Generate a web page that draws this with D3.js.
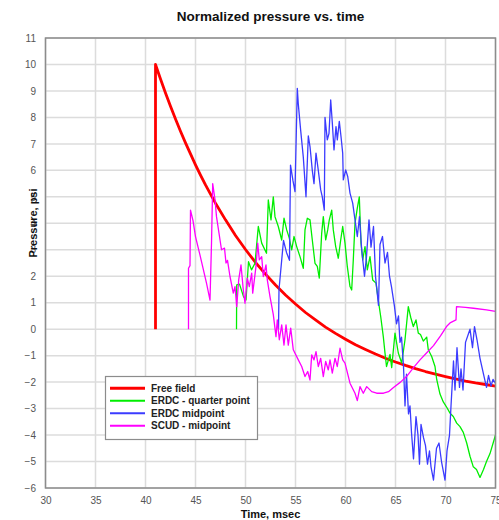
<!DOCTYPE html>
<html>
<head>
<meta charset="utf-8">
<script src="https://cdn.jsdelivr.net/npm/d3@7"></script>
<style>
  html, body { margin: 0; padding: 0; background: #fff; }
  svg { display: block; }
  text { font-family: "Liberation Sans", Arial, sans-serif; }
</style>
</head>
<body>
<svg id="chart" width="499" height="520"></svg>
<script>
// ---- Data ----
const title = "Normalized pressure vs. time";
const xLabel = "Time, msec";
const yLabel = "Pressure, psi";
const xTicks = [30, 35, 40, 45, 50, 55, 60, 65, 70, 75];
const yTicks = [-6, -5, -4, -3, -2, -1, 0, 1, 2, 3, 4, 5, 6, 7, 8, 9, 10, 11];
const seriesNames = ["Free field", "ERDC - quarter point", "ERDC midpoint", "SCUD - midpoint"];

// Free field [time, pressure]
const freeField = [
  [41, 0], [41, 10], [41.5, 9.45], [42, 8.92], [42.5, 8.42], [43, 7.94], [43.5, 7.48], [44, 7.04],
  [44.5, 6.62], [45, 6.21], [45.5, 5.82], [46, 5.45], [46.5, 5.10], [47, 4.76],
  [48, 4.13], [49, 3.54], [50, 3.01], [51, 2.52], [52, 2.08], [53, 1.67], [54, 1.29],
  [55, 0.95], [56, 0.63], [57, 0.35], [58, 0.08], [59, -0.16], [60, -0.38], [61, -0.59],
  [62, -0.77], [63, -0.94], [64, -1.10], [65, -1.24], [66, -1.37], [67, -1.49], [68, -1.60],
  [69, -1.70], [70, -1.79], [71, -1.88], [72, -1.96], [73, -2.03], [74, -2.09], [75, -2.15]
];

// ERDC - quarter point
const erdcQuarter = [
  [49.1, 0], [49.12, 1.67], [49.4, 1.7], [49.8, 1.23], [50.05, 1.1], [50.3, 2.55], [50.6, 2.24],
  [50.95, 2.49], [51.28, 3.88], [51.62, 3.25], [52.1, 2.87], [52.28, 4.88], [52.55, 4.13],
  [52.78, 5.0], [52.95, 4.25], [53.28, 3.88], [53.62, 3.37], [53.85, 4.19], [54.12, 3.75],
  [54.38, 3.44], [54.62, 3.0], [54.85, 3.5], [55.12, 3.12], [55.45, 2.74], [55.78, 2.3],
  [55.95, 3.75], [56.18, 4.19], [56.45, 4.13], [56.68, 3.37], [56.95, 2.49], [57.18, 2.37],
  [57.38, 1.93], [57.62, 3.63], [57.78, 4.25], [58.02, 3.37], [58.22, 3.75], [58.38, 4.13],
  [58.62, 4.5], [58.78, 3.75], [59.02, 3.12], [59.28, 2.68], [59.52, 3.37], [59.72, 3.88],
  [59.95, 3.25], [60.18, 2.37], [60.45, 1.61], [60.62, 1.48], [60.78, 2.62], [60.95, 4.0],
  [61.18, 4.57], [61.38, 5.0], [61.55, 3.25], [61.72, 2.62], [61.95, 3.12], [62.18, 2.24],
  [62.45, 2.74], [62.72, 1.86], [63.05, 1.74], [63.28, 1.1], [63.52, 0.48], [63.78, -0.28],
  [63.95, -0.9], [64.1, -1.41], [64.45, -0.95], [64.62, -1.45], [64.95, -0.15], [65.28, -0.9],
  [65.62, -1.28], [65.95, -0.4], [66.28, 0.85], [66.52, 0.45], [66.78, 0.1], [67.05, 0.35],
  [67.28, -0.15], [67.5, -0.2], [67.78, -0.45], [68.12, -0.3], [68.28, -0.78], [68.62, -1.03],
  [68.95, -1.41], [69.12, -1.9], [69.45, -2.45], [69.78, -2.75], [70.12, -2.95], [70.45, -3.17],
  [70.78, -3.3], [71.12, -3.55], [71.45, -3.68], [71.78, -3.9], [72.12, -4.3], [72.45, -4.8],
  [72.78, -5.2], [73.1, -5.3], [73.45, -5.6], [73.8, -5.3], [74.1, -5.0], [74.45, -4.7], [75.0, -4.0]
];

// ERDC midpoint
const erdcMid = [
  [53.3, 0.0], [53.35, 1.5], [53.8, 3.35], [54.1, 2.9], [54.4, 2.6], [54.5, 6.2], [54.75, 5.6],
  [54.95, 5.2], [55.18, 9.1], [55.28, 8.5], [55.52, 7.5], [55.78, 6.5], [56.05, 5.0], [56.28, 7.3],
  [56.45, 6.9], [56.68, 6.0], [56.85, 5.5], [57.05, 6.65], [57.28, 6.0], [57.52, 5.26], [57.68, 5.0],
  [57.88, 4.5], [57.95, 8.0], [58.18, 7.15], [58.35, 7.4], [58.52, 8.66], [58.68, 7.8], [58.85, 6.77],
  [59.05, 7.65], [59.18, 7.15], [59.38, 7.85], [59.55, 7.28], [59.72, 6.65], [59.78, 5.64],
  [60.02, 6.02], [60.22, 5.77], [60.45, 5.14], [60.72, 4.76], [60.95, 4.13], [61.18, 3.5],
  [61.4, 4.25], [61.62, 3.0], [61.9, 2.0], [62.1, 2.74], [62.35, 4.13], [62.55, 3.1], [62.8, 3.88],
  [63.0, 2.0], [63.3, 0.9], [63.45, 3.2], [63.7, 3.5], [63.95, 2.5], [64.2, 2.9], [64.4, 2.0],
  [64.6, 1.6], [64.9, 0.85], [65.1, 0.2], [65.3, 0.5], [65.45, -0.5], [65.6, -0.3], [65.8, -1.4],
  [65.95, -2.9], [66.1, -1.7], [66.3, -3.2], [66.45, -2.9], [66.6, -3.9], [66.8, -4.9], [67.05, -3.3],
  [67.25, -4.0], [67.4, -5.1], [67.55, -3.6], [67.8, -4.1], [68.0, -4.4], [68.2, -5.1], [68.4, -4.6],
  [68.55, -5.2], [68.8, -5.7], [69.1, -4.5], [69.35, -4.3], [69.6, -5.0], [69.95, -5.7], [70.15, -4.6],
  [70.4, -4.0], [70.55, -2.9], [70.8, -1.2], [70.95, -2.3], [71.15, -0.7], [71.4, -2.2], [71.55, -1.5],
  [71.75, -2.3], [72.0, -0.5], [72.45, 0.0], [72.7, -0.7], [72.9, 0.1], [73.15, -0.4], [73.45, -1.1],
  [73.8, -1.7], [74.1, -2.2], [74.3, -1.75], [74.55, -2.15], [74.75, -1.9], [75.0, -2.05]
];

// SCUD - midpoint
const scudMid = [
  [44.3, 0], [44.3, 2.3], [44.45, 2.4], [44.5, 4.5], [44.75, 4.1], [45.0, 3.5], [45.45, 2.8],
  [46.1, 1.74], [46.45, 1.1], [46.6, 3.25], [46.72, 5.5], [46.95, 4.9], [47.1, 4.25], [47.6, 3.0],
  [47.9, 3.06], [48.05, 2.5], [48.2, 2.6], [48.45, 1.99], [48.78, 1.36], [48.95, 1.61], [49.12, 0.85],
  [49.32, 1.86], [49.55, 2.43], [49.78, 1.48], [49.95, 0.98], [50.18, 1.93], [50.38, 1.61],
  [50.62, 2.12], [50.72, 1.36], [51.05, 2.37], [51.22, 3.25], [51.38, 2.62], [51.62, 2.74],
  [51.78, 1.99], [52.05, 2.43], [52.18, 1.86], [52.45, 1.23], [52.78, 0.55], [53.05, -0.28],
  [53.18, 0.35], [53.38, -0.4], [53.62, 0.16], [53.85, -0.6], [54.05, 0.16], [54.28, -0.6],
  [54.52, 0.04], [54.78, -0.78], [55.28, -1.16], [55.62, -1.41], [55.95, -1.79], [56.22, -1.6],
  [56.45, -1.92], [56.62, -0.97], [56.85, -1.16], [57.05, -0.85], [57.28, -1.41], [57.52, -1.1],
  [57.78, -1.79], [58.02, -1.22], [58.28, -1.54], [58.45, -1.16], [58.68, -1.66], [58.95, -1.1],
  [59.18, -1.41], [59.45, -0.72], [59.72, -1.16], [59.95, -1.28], [60.45, -2.04], [60.95, -2.42],
  [61.18, -2.7], [61.45, -2.17], [61.78, -2.42], [62.12, -2.17], [62.62, -2.36], [63.12, -2.42],
  [63.8, -2.42], [64.3, -2.36], [64.8, -2.2], [65.5, -2.0], [66.1, -1.79], [66.8, -1.45],
  [67.45, -1.16], [68.1, -0.9], [68.8, -0.62], [69.5, -0.25], [70.1, 0.1], [70.5, 0.25],
  [71.05, 0.35], [71.1, 0.85], [72.0, 0.82], [72.8, 0.79], [74.1, 0.73], [75.0, 0.67]
];

const seriesData = [freeField, erdcQuarter, erdcMid, scudMid];
const seriesColors = ["#ff0000", "#00ee00", "#3b3bff", "#ff00ff"];
const seriesWidths = [2.8, 1.3, 1.3, 1.3];
const legendWidths = [3, 2, 2, 2];

// ---- Layout ----
const svg = d3.select("#chart");
const plot = { left: 45.5, right: 495.5, top: 38, bottom: 488 };

const x = d3.scaleLinear().domain([30, 75]).range([plot.left, plot.right]);
const y = d3.scaleLinear().domain([-6, 11]).range([plot.bottom, plot.top]);

// Title
svg.append("text")
  .attr("x", (plot.left + plot.right) / 2)
  .attr("y", 21)
  .attr("text-anchor", "middle")
  .attr("font-size", "13.5px")
  .attr("font-weight", "bold")
  .attr("fill", "#111")
  .text(title);

// Gridlines
const grid = svg.append("g");
grid.selectAll("line.v").data(xTicks).join("line")
  .attr("x1", d => x(d)).attr("x2", d => x(d))
  .attr("y1", plot.top).attr("y2", plot.bottom)
  .attr("stroke", "#dcdcdc").attr("stroke-width", 1.5);
grid.selectAll("line.h").data(yTicks).join("line")
  .attr("x1", plot.left).attr("x2", plot.right)
  .attr("y1", d => y(d)).attr("y2", d => y(d))
  .attr("stroke", "#dcdcdc").attr("stroke-width", 1.5);

// Axes (labels only, styled)
const xAxis = d3.axisBottom(x).tickValues(xTicks).tickSize(0).tickPadding(10).tickFormat(d3.format("d"));
const yAxis = d3.axisLeft(y).tickValues(yTicks).tickSize(0).tickPadding(10).tickFormat(d3.format("d"));

const gx = svg.append("g").attr("transform", `translate(0,${plot.bottom})`).call(xAxis);
const gy = svg.append("g").attr("transform", `translate(${plot.left},0)`).call(yAxis);
[gx, gy].forEach(g => {
  g.select(".domain").remove();
  g.selectAll("text")
    .attr("font-family", "'Liberation Sans', Arial, sans-serif")
    .attr("font-size", "10px")
    .attr("fill", "#555");
});
gx.selectAll("text").attr("dy", "0.71em").attr("y", 9);
gy.selectAll("text").attr("x", -9.5);

// Clip for series
svg.append("clipPath").attr("id", "plotClip")
  .append("rect")
  .attr("x", plot.left).attr("y", plot.top)
  .attr("width", plot.right - plot.left).attr("height", plot.bottom - plot.top);

const line = d3.line().x(d => x(d[0])).y(d => y(d[1]));

const series = svg.append("g").attr("clip-path", "url(#plotClip)");
seriesData.forEach((data, i) => {
  series.append("path")
    .datum(data)
    .attr("fill", "none")
    .attr("stroke", seriesColors[i])
    .attr("stroke-width", seriesWidths[i])
    .attr("stroke-linejoin", "round")
    .attr("d", line(data));
});

// Plot frame
svg.append("rect")
  .attr("x", plot.left).attr("y", plot.top)
  .attr("width", plot.right - plot.left).attr("height", plot.bottom - plot.top)
  .attr("fill", "none").attr("stroke", "#8c8c8c").attr("stroke-width", 1.5);

// Axis titles
svg.append("text")
  .attr("x", (plot.left + plot.right) / 2)
  .attr("y", 517.5)
  .attr("text-anchor", "middle")
  .attr("font-size", "11px")
  .attr("font-weight", "bold")
  .attr("fill", "#111")
  .text(xLabel);

svg.append("text")
  .attr("transform", `translate(36.5,223) rotate(-90)`)
  .attr("text-anchor", "middle")
  .attr("font-size", "11px")
  .attr("font-weight", "bold")
  .attr("fill", "#111")
  .text(yLabel);

// Legend
const legend = svg.append("g");
legend.append("rect")
  .attr("x", 105.5).attr("y", 376.5)
  .attr("width", 152).attr("height", 63)
  .attr("fill", "#fff").attr("stroke", "#8c8c8c").attr("stroke-width", 1.2);
const rowY = [388.3, 400.8, 413.3, 425.8];
seriesNames.forEach((name, i) => {
  legend.append("line")
    .attr("x1", 110).attr("x2", 145)
    .attr("y1", rowY[i]).attr("y2", rowY[i])
    .attr("stroke", seriesColors[i]).attr("stroke-width", legendWidths[i]);
  legend.append("text")
    .attr("x", 151).attr("y", rowY[i] + 3.5)
    .attr("font-size", "10px")
    .attr("font-weight", "bold")
    .attr("fill", "#222")
    .text(name);
});
</script>
</body>
</html>
